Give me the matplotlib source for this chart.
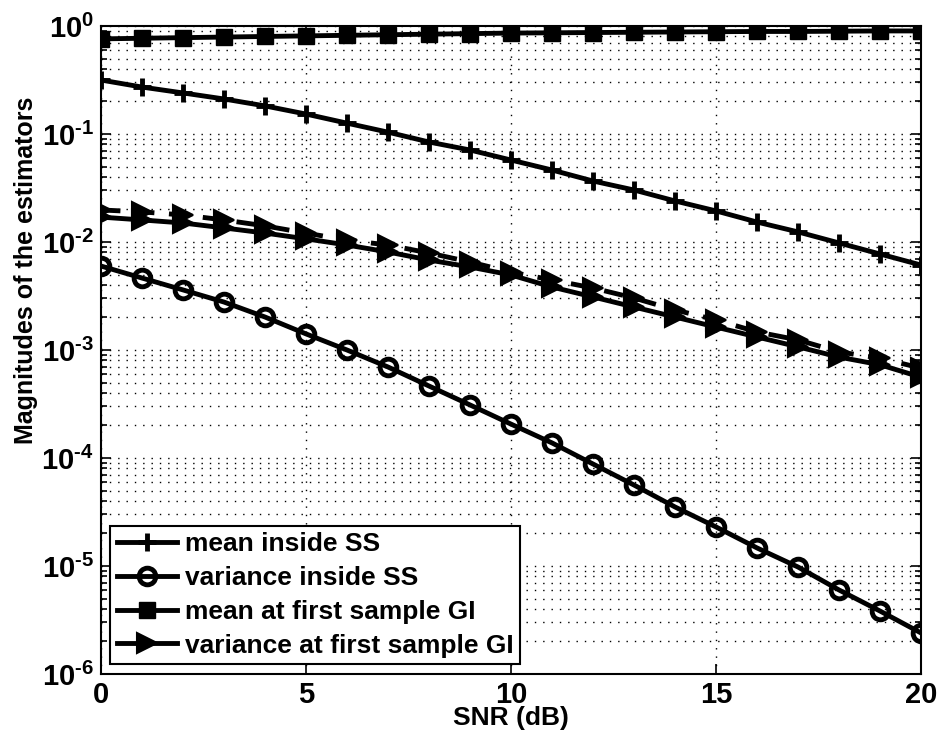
import math
import matplotlib
matplotlib.use("Agg")
import matplotlib.pyplot as plt
from matplotlib.ticker import FixedLocator, FuncFormatter, LogLocator, NullFormatter

plt.rcParams['font.family'] = ['Liberation Sans', 'DejaVu Sans']
plt.rcParams['font.weight'] = 'bold'
plt.rcParams['mathtext.fontset'] = 'custom'
plt.rcParams['mathtext.rm'] = 'Liberation Sans:bold'
plt.rcParams['mathtext.bf'] = 'Liberation Sans:bold'

snr_db = list(range(0, 21))

mean_ss = [0.316, 0.272, 0.240, 0.211, 0.182, 0.153, 0.126, 0.104, 0.0843, 0.0711,
           0.0574, 0.0464, 0.0367, 0.0303, 0.0240, 0.0194, 0.0153, 0.0124, 0.0098,
           0.00774, 0.00612]
var_ss = [5.99e-3, 4.64e-3, 3.60e-3, 2.78e-3, 2.02e-3, 1.41e-3, 1.00e-3, 6.96e-4,
          4.64e-4, 3.10e-4, 2.06e-4, 1.38e-4, 8.80e-5, 5.62e-5, 3.52e-5, 2.30e-5,
          1.47e-5, 9.79e-6, 6.00e-6, 3.83e-6, 2.40e-6]
mean_gi = [0.76, 0.77, 0.78, 0.79, 0.80, 0.81, 0.82, 0.83, 0.84, 0.85, 0.86, 0.865,
           0.87, 0.875, 0.88, 0.885, 0.89, 0.89, 0.895, 0.90, 0.90]
var_gi = [0.0170, 0.0160, 0.0150, 0.0135, 0.0121, 0.0107, 0.00938, 0.00808, 0.00681,
          0.00587, 0.00495, 0.00383, 0.00310, 0.00250, 0.00202, 0.00163, 0.00132,
          0.00107, 0.00086, 0.00073, 0.00056]
var_gi_dashed = [0.0198, 0.0190, 0.0178, 0.0160, 0.0141, 0.0121, 0.0104, 0.00938,
                 0.00791, 0.00653, 0.00527, 0.00445, 0.00375, 0.00303, 0.00235,
                 0.00190, 0.00147, 0.00124, 0.00096, 0.00084, 0.00068]
decades = [1e-6, 1e-5, 1e-4, 1e-3, 1e-2, 1e-1, 1e0]


def decade_label(v, pos):
    # MATLAB-style exponent with a short hyphen
    e = round(math.log10(v))
    sign = r'\text{-}' if e < 0 else ''
    return r'$\mathbf{10^{%s%d}}$' % (sign, abs(e))


fig = plt.figure(figsize=(9.4, 7.42), dpi=100)
ax = fig.add_axes([101 / 940, 1 - 674 / 742, 820 / 940, 648 / 742])

lw = 3.5
ax.plot(snr_db, var_gi_dashed, 'k--', lw=lw, dashes=(4, 3), marker='>', markersize=15,
        markerfacecolor='k', markeredgewidth=1.5)
ax.plot(snr_db, mean_ss, 'k-', lw=lw, marker='+', markersize=13, markeredgewidth=3.5,
        label='mean inside SS')
ax.plot(snr_db, var_ss, 'k-', lw=lw, marker='o', markersize=12, markeredgewidth=3.5,
        markerfacecolor='none', label='variance inside SS')
ax.plot(snr_db, mean_gi, 'k-', lw=lw, marker='s', markersize=12, markerfacecolor='k',
        label='mean at first sample GI')
ax.plot(snr_db, var_gi, 'k-', lw=lw, marker='>', markersize=15, markerfacecolor='k',
        markeredgewidth=1.5, label='variance at first sample GI')

ax.set_yscale('log')
ax.set_xlim(0, 20)
ax.set_ylim(1e-6, 1)
ax.xaxis.set_major_locator(FixedLocator([0, 5, 10, 15, 20]))
ax.yaxis.set_major_locator(FixedLocator(decades))
ax.yaxis.set_minor_locator(LogLocator(base=10, subs=range(2, 10), numticks=100))
ax.yaxis.set_major_formatter(FuncFormatter(decade_label))
ax.yaxis.set_minor_formatter(NullFormatter())

dots = (0, (1, 5))
ax.grid(True, which='major', axis='both', color='k', linestyle=dots, lw=1)
ax.grid(True, which='minor', axis='y', color='k', linestyle=dots, lw=1)

ax.tick_params(which='both', direction='in', top=True, right=True, width=1.2)
ax.tick_params(which='major', length=7, labelsize=21, pad=5)
ax.tick_params(which='minor', length=4)
for lbl in ax.get_xticklabels():
    lbl.set_fontweight('bold')
for s in ax.spines.values():
    s.set_linewidth(1.5)

ax.set_xlabel('SNR (dB)', fontsize=19, fontweight='bold', labelpad=-2)
ax.set_ylabel('Magnitudes of the estimators', fontsize=18, fontweight='bold')
ax.yaxis.set_label_coords(-0.077, 0.623)

leg = ax.legend(loc='lower left', fontsize=19, handlelength=2.3, handletextpad=0.3,
                borderpad=0.25, labelspacing=0.37, borderaxespad=0, fancybox=False,
                framealpha=1, edgecolor='k', bbox_to_anchor=(0.011, 0.015))
leg.get_frame().set_linewidth(1.5)
for t in leg.get_texts():
    t.set_fontweight('bold')

fig.savefig('out.png', dpi=100)
